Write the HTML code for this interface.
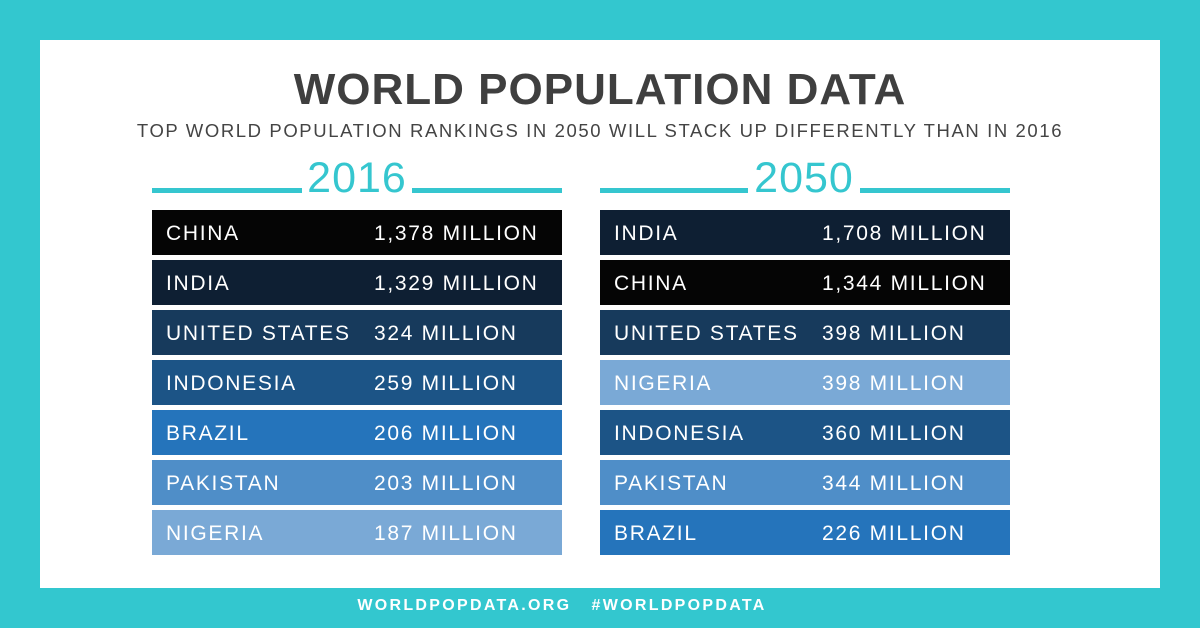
<!DOCTYPE html>
<html><head><style>
body{margin:0;width:1200px;height:628px;background:#33c7cf;position:relative;overflow:hidden;font-family:"Liberation Sans",sans-serif}
.panel{position:absolute;left:40px;top:40px;width:1120px;height:548px;background:#fff}
.t{position:absolute;width:1200px;left:0;text-align:center}
.row{position:absolute;height:45px;color:#fff;font-size:21px;letter-spacing:1.7px;line-height:48px}
.row span{position:absolute}
.line{position:absolute;height:5px;background:#35c6cf;top:188px}
.yr{position:absolute;top:154px;font-size:43px;color:#35c6cf;font-weight:300;width:110px;text-align:center;letter-spacing:1px}
</style></head><body>
<div class="panel"></div>
<div class="t" style="top:65px;font-size:44px;font-weight:bold;color:#3f3f3f;letter-spacing:1px">WORLD POPULATION DATA</div>
<div class="t" style="top:120px;font-size:18.5px;color:#444;letter-spacing:1.6px">TOP WORLD POPULATION RANKINGS IN 2050 WILL STACK UP DIFFERENTLY THAN IN 2016</div>
<div class="line" style="left:152px;width:150px"></div><div class="line" style="left:412px;width:150px"></div>
<div class="yr" style="left:302px">2016</div>
<div class="line" style="left:600px;width:148px"></div><div class="line" style="left:860px;width:150px"></div>
<div class="yr" style="left:749px">2050</div>
<div id="rows"></div>
<div class="t" style="top:597px;left:-38px;font-size:16px;font-weight:bold;color:#fff;letter-spacing:2.3px">WORLDPOPDATA.ORG &nbsp; #WORLDPOPDATA</div>
<script>
var L=[["CHINA","1,378 MILLION","#050505"],["INDIA","1,329 MILLION","#0e1f33"],["UNITED STATES","324 MILLION","#173a5c"],["INDONESIA","259 MILLION","#1c5486"],["BRAZIL","206 MILLION","#2574bb"],["PAKISTAN","203 MILLION","#4f8ec8"],["NIGERIA","187 MILLION","#7aa9d6"]];
var R=[["INDIA","1,708 MILLION","#0e1f33"],["CHINA","1,344 MILLION","#050505"],["UNITED STATES","398 MILLION","#173a5c"],["NIGERIA","398 MILLION","#7aa9d6"],["INDONESIA","360 MILLION","#1c5486"],["PAKISTAN","344 MILLION","#4f8ec8"],["BRAZIL","226 MILLION","#2574bb"]];
var h="";
function f(a,x){a.forEach(function(r,i){h+='<div class="row" style="left:'+x+'px;width:410px;top:'+(210+i*50)+'px;background:'+r[2]+'"><span style="left:14px">'+r[0]+'</span><span style="left:222px">'+r[1]+'</span></div>';});}
f(L,152);f(R,600);
document.getElementById("rows").innerHTML=h;
</script>
</body></html>
